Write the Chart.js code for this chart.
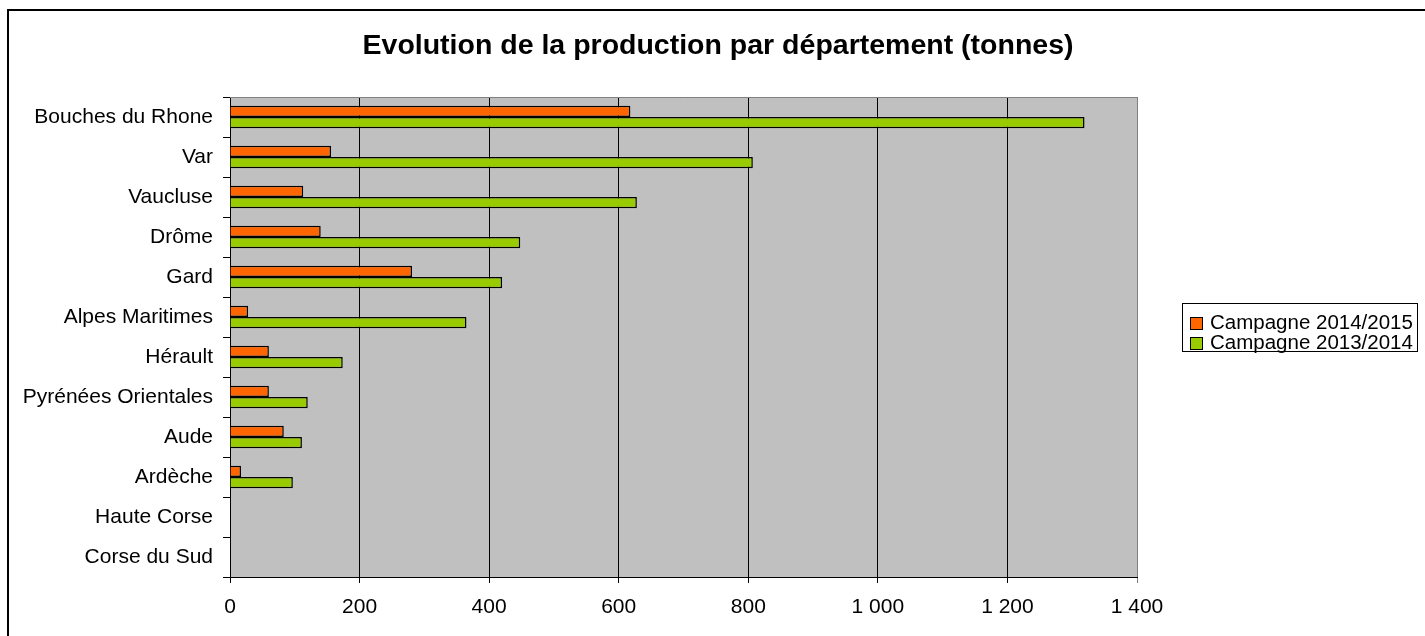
<!DOCTYPE html>
<html>
<head>
<meta charset="utf-8">
<script src="https://cdn.jsdelivr.net/npm/chart.js@4"></script>
<style>
  body { margin: 0; background: #fff; }
  #wrap { width: 1425px; height: 636px; }
</style>
</head>
<body>
<div id="wrap"><canvas id="prodChart" width="1425" height="636"></canvas></div>
<script>
// departments, top to bottom
const departements = [
  "Bouches du Rhone", "Var", "Vaucluse", "Drôme", "Gard", "Alpes Maritimes",
  "Hérault", "Pyrénées Orientales", "Aude", "Ardèche", "Haute Corse", "Corse du Sud"
];
// production in tonnes
const campagne1415 = [618, 156, 113, 140, 281, 28, 60, 60, 83, 17, 0, 0];
const campagne1314 = [1319, 807, 628, 448, 420, 365, 174, 120, 111, 97, 0, 0];
const xTicks = [0, 200, 400, 600, 800, 1000, 1200, 1400];

const TITLE = "Evolution de la production par département (tonnes)";
const FONT = "Liberation Sans, Arial, sans-serif";

// thousands with a space, like "1 200"
function fmt(v) {
  return String(v).replace(/\B(?=(\d{3})+(?!\d))/g, " ");
}

const frame = {
  id: "frame",
  beforeDraw(chart) {
    const { ctx, chartArea: a } = chart;
    ctx.save();
    ctx.fillStyle = "#c0c0c0";
    ctx.fillRect(a.left, a.top, a.right - a.left, a.bottom - a.top);
    ctx.restore();
  },
  afterDraw(chart) {
    const { ctx, chartArea: a } = chart;
    ctx.save();
    // outer border (only left and top are in view)
    ctx.strokeStyle = "#000";
    ctx.lineWidth = 2;
    ctx.strokeRect(8, 10, 1500, 700);
    // grey plot border top / right
    ctx.strokeStyle = "#808080";
    ctx.lineWidth = 1;
    ctx.beginPath();
    ctx.moveTo(a.left, a.top + 0.5);
    ctx.lineTo(a.right + 0.5, a.top + 0.5);
    ctx.lineTo(a.right + 0.5, a.bottom);
    ctx.stroke();
    // title
    ctx.fillStyle = "#000";
    ctx.font = "bold 28.5px " + FONT;
    ctx.textAlign = "center";
    ctx.textBaseline = "alphabetic";
    ctx.fillText(TITLE, 718, 54);
    // legend
    ctx.strokeStyle = "#000";
    ctx.strokeRect(1182.5, 303.5, 235, 48);
    ctx.font = "20.5px " + FONT;
    ctx.textAlign = "left";
    chart.data.datasets.forEach((ds, i) => {
      const y = 317 + i * 20;
      ctx.fillStyle = ds.backgroundColor;
      ctx.fillRect(1190, y, 12, 12);
      ctx.strokeStyle = "#000";
      ctx.strokeRect(1190.5, y + 0.5, 12, 12);
      ctx.fillStyle = "#000";
      ctx.fillText(ds.label, 1210, y + 11.5);
    });
    ctx.restore();
  }
};

new Chart(document.getElementById("prodChart"), {
  type: "bar",
  data: {
    labels: departements,
    datasets: [
      {
        label: "Campagne 2014/2015",
        data: campagne1415,
        backgroundColor: "#ff6600",
        borderColor: "#000",
        borderWidth: 1.5,
        barPercentage: 1,
        categoryPercentage: 0.56
      },
      {
        label: "Campagne 2013/2014",
        data: campagne1314,
        backgroundColor: "#99cc00",
        borderColor: "#000",
        borderWidth: 1.5,
        barPercentage: 1,
        categoryPercentage: 0.56
      }
    ]
  },
  options: {
    indexAxis: "y",
    responsive: false,
    animation: false,
    layout: { padding: { left: 0, right: 288, top: 97, bottom: 0 } },
    plugins: {
      legend: { display: false },
      title: { display: false },
      tooltip: { enabled: false }
    },
    scales: {
      x: {
        min: 0,
        max: 1400,
        afterBuildTicks(scale) {
          scale.ticks = xTicks.map((v) => ({ value: v }));
        },
        afterFit(scale) { scale.height = 59; },
        grid: {
          color: (c) => (c.tick && c.tick.value === 1400 ? "#808080" : "#000"),
          tickLength: 6,
          drawTicks: true
        },
        border: { color: "#000" },
        ticks: {
          color: "#000",
          padding: 12,
          font: { family: FONT, size: 21 },
          callback: (v) => fmt(v)
        }
      },
      y: {
        afterFit(scale) { scale.width = 230; },
        grid: { drawOnChartArea: false, color: "#000", tickLength: 7 },
        border: { color: "#000" },
        ticks: {
          color: "#000",
          padding: 10,
          font: { family: FONT, size: 21 }
        }
      }
    }
  },
  plugins: [frame]
});
</script>
</body>
</html>
